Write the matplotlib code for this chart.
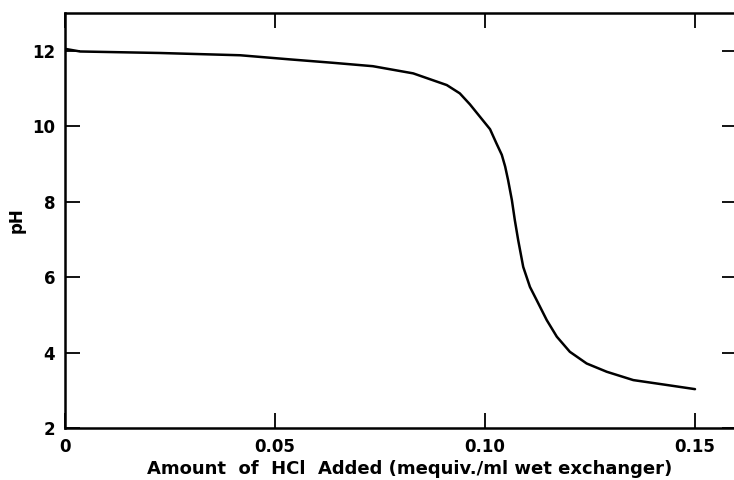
import matplotlib
matplotlib.use("Agg")
import matplotlib.pyplot as plt
import numpy as np

# titration curve
hcl_added = np.array([0.0, 0.0036, 0.0226, 0.0417, 0.0536, 0.0638, 0.0733, 0.0829,
                      0.0909, 0.0940, 0.0964, 0.0988, 0.1012, 0.1027, 0.1040,
                      0.1048, 0.1055, 0.1064, 0.1071, 0.1079, 0.1091, 0.1107,
                      0.1123, 0.1147, 0.1171, 0.1202, 0.1242, 0.1290, 0.1353,
                      0.1433, 0.1500])
ph = np.array([12.05, 11.98, 11.94, 11.88, 11.77, 11.68, 11.59, 11.40,
               11.09, 10.87, 10.58, 10.25, 9.92, 9.55, 9.24,
               8.93, 8.57, 8.04, 7.51, 6.98, 6.27, 5.74,
               5.39, 4.86, 4.42, 4.02, 3.71, 3.49, 3.27,
               3.14, 3.03])

x_ticks = [0, 0.05, 0.10, 0.15]
x_tick_labels = ["0", "0.05", "0.10", "0.15"]
y_ticks = [2, 4, 6, 8, 10, 12]

plt.rcParams["font.family"] = ["DejaVu Sans"]

fig = plt.figure(figsize=(7.34, 4.8), dpi=100)
# right spine sits just past the image edge, as in the scan
ax = fig.add_axes([65 / 734, 1 - 428 / 480, 672 / 734, 415 / 480])

ax.plot(hcl_added, ph, color="black", linewidth=1.8, solid_capstyle="round",
        solid_joinstyle="round")

ax.set_xlim(0, 0.16)
ax.set_ylim(2, 13)
ax.set_xticks(x_ticks)
ax.set_xticklabels(x_tick_labels)
ax.set_yticks(y_ticks)

ax.tick_params(direction="in", length=11, width=1.3, labelsize=12,
               top=True, right=True, pad=7)
for lab in ax.get_xticklabels() + ax.get_yticklabels():
    lab.set_fontweight("bold")
for sp in ax.spines.values():
    sp.set_linewidth(1.8)

ax.set_xlabel("Amount  of  HCl  Added (mequiv./ml wet exchanger)",
              fontsize=13, fontweight="bold")
ax.xaxis.set_label_coords(0.513, -0.078)
ax.set_ylabel("pH", fontsize=12, fontweight="bold", labelpad=5)

fig.savefig("out.png", dpi=100)
